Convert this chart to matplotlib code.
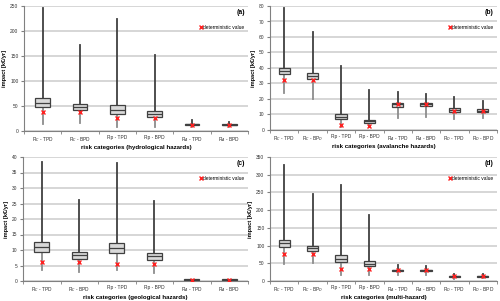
import matplotlib.pyplot as plt
from matplotlib.lines import Line2D

# category labels
cats6 = [r'R$_C$ - TPD', r'R$_C$ - BPD', 'Rp - TPD', 'Rp - BPD', r'R$_A$ - TPD', r'R$_A$ - BPD']
cats8 = [r'R$_C$ - TPD', r'R$_C$ - BP$_D$', 'Rp - TPD', 'Rp - BPD', r'R$_A$ - TPD', r'R$_A$ - BPD',
         r'R$_D$ - TPD', r'R$_D$ - BPD']

# (a) hydrological hazards: min, q1, median, q3, max, deterministic
hyd_min = [15, 16, 9, 9, 8, 9]
hyd_q1 = [48, 43, 35, 29, 12, 12]
hyd_med = [56, 48, 42, 35, 14, 13]
hyd_q3 = [66, 54, 52, 41, 15, 14]
hyd_max = [247, 173, 224, 153, 22, 19]
hyd_det = [38, 38, 26, 26, 12, 12]

# (b) avalanche hazards
ava_min = [24, 20, 2, 2, 8, 8.5, 7, 7.5]
ava_q1 = [36, 33, 7, 4.5, 15, 15.5, 11.5, 11.5]
ava_med = [38, 35, 8.5, 5.5, 16.5, 16.5, 13, 12.5]
ava_q3 = [40, 36.5, 10, 6.5, 17.5, 17.5, 14.5, 13.5]
ava_max = [79, 63, 41.5, 25.5, 24.5, 23.5, 21, 19]
ava_det = [32, 32, 3, 2.5, 17, 17, 12.5, 12.5]

# (c) geological hazards
geo_min = [3.5, 3, 3.5, 2.7, 0.2, 0.2]
geo_q1 = [9.5, 7.2, 9, 6.8, 0.3, 0.3]
geo_med = [11, 8.3, 10.5, 8, 0.4, 0.4]
geo_q3 = [12.7, 9.4, 12.3, 9, 0.6, 0.6]
geo_max = [38.5, 26.2, 38, 25.7, 0.8, 0.8]
geo_det = [6, 6, 5.5, 5.5, 0.4, 0.4]

# (d) multi-hazard
mul_min = [47, 50, 17, 16, 18, 18, 7, 8]
mul_q1 = [97, 86, 53, 42, 29, 28, 12, 12]
mul_med = [107, 92, 62, 48, 31, 30, 13, 13]
mul_q3 = [117, 99, 73, 56, 32, 32, 14, 14]
mul_max = [328, 245, 270, 187, 44, 43, 20, 19]
mul_det = [76, 76, 34, 34, 30, 30, 13, 13]

W, H = 500, 301
fig = plt.figure(figsize=(5.0, 3.01), dpi=100)
plt.rcParams['font.family'] = ['Liberation Sans', 'DejaVu Sans']


def panel(rect, cats, mn, q1, med, q3, mx, det, ymax, ystep, xlabel, tag):
    l, r, t, b = rect
    ax = fig.add_axes([l / W, 1 - b / H, (r - l) / W, (b - t) / H])
    stats = []
    for i in range(len(cats)):
        stats.append(dict(whislo=mn[i], q1=q1[i], med=med[i], q3=q3[i], whishi=mx[i]))
    pos = list(range(1, len(cats) + 1))
    bp = ax.bxp(stats, positions=pos, widths=0.4, showcaps=False, showfliers=False,
                patch_artist=True,
                boxprops=dict(facecolor='#d9d9d9', edgecolor='#404040', linewidth=0.9),
                medianprops=dict(color='#404040', linewidth=0.9),
                whiskerprops=dict(linewidth=1.3))
    for k, w in enumerate(bp['whiskers']):
        w.set_color('#8c8c8c' if k % 2 == 0 else '#404040')
        w.set_zorder(2)
    for bx in bp['boxes']:
        bx.set_zorder(3)
    for m in bp['medians']:
        m.set_zorder(4)
    ax.plot(pos, det, 'x', color='#ff2020', ms=3, mew=1.0, zorder=5)
    ax.set_xlim(0.5, len(cats) + 0.5)
    ax.set_ylim(0, ymax)
    ax.set_yticks(range(0, ymax + 1, ystep))
    ax.set_xticks(pos)
    ax.set_xticklabels(cats)
    ax.set_xticks([p + 0.5 for p in [0] + pos], minor=True)
    ax.tick_params(axis='x', which='major', length=0, labelsize=3.5, pad=3, colors='#333333')
    ax.tick_params(axis='x', which='minor', length=2.5, color='#808080')
    ax.tick_params(axis='y', length=2.5, color='#808080', labelsize=3.5, pad=1.5, colors='#333333')
    ax.grid(axis='y', color='#d0d0d0', linewidth=1.2)
    ax.set_axisbelow(True)
    for s in ['top', 'right']:
        ax.spines[s].set_visible(False)
    for s in ['left', 'bottom']:
        ax.spines[s].set_color('#808080')
        ax.spines[s].set_linewidth(0.8)
    ax.set_xlabel(xlabel, fontsize=4.4, fontweight='bold', labelpad=1)
    ax.set_ylabel('impact [k€/yr]', fontsize=4.1, fontweight='bold', labelpad=2)
    ax.text(0.985, 0.945, tag, transform=ax.transAxes, ha='right', va='center',
            fontsize=4.9, fontweight='bold')
    h = Line2D([], [], ls='none', marker='x', color='#ff2020', ms=3, mew=1.0)
    ax.legend([h], ['deterministic value'], loc='center right', bbox_to_anchor=(1.0, 0.83),
              frameon=False, fontsize=3.5, handletextpad=0.0, handlelength=1.0,
              borderpad=0.2)
    return ax


panel((24, 248, 6, 131), cats6, hyd_min, hyd_q1, hyd_med, hyd_q3, hyd_max, hyd_det,
      250, 50, 'risk categories (hydrological hazards)', '(a)')
panel((270, 497, 6, 130), cats8, ava_min, ava_q1, ava_med, ava_q3, ava_max, ava_det,
      80, 10, 'risk categories (avalanche hazards)', '(b)')
panel((23, 248, 157, 281), cats6, geo_min, geo_q1, geo_med, geo_q3, geo_max, geo_det,
      40, 5, 'risk categories (geological hazards)', '(c)')
panel((270, 497, 157, 281), cats8, mul_min, mul_q1, mul_med, mul_q3, mul_max, mul_det,
      350, 50, 'risk categories (multi-hazard)', '(d)')

fig.savefig('out.png', dpi=100)
